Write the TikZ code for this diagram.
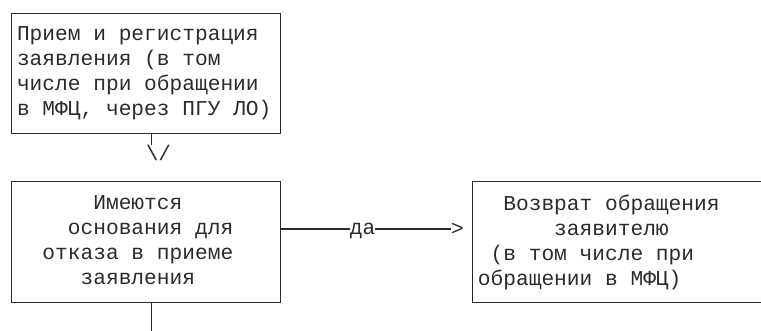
\documentclass[tikz,border=0pt]{standalone}
\usepackage{fontspec}
\newfontfamily\monofnt{Liberation Mono}
\definecolor{ink}{HTML}{2B2B2B}
\tikzset{
  boxline/.style={draw=ink, line width=1.4pt},
  frame/.style={boxline, rectangle, inner sep=0pt},
  txt/.style={font=\monofnt\fontsize{21.2}{25}\selectfont, text=ink, inner sep=0pt, align=left, anchor=north west},
  glyph/.style={font=\monofnt\fontsize{21.2}{25}\selectfont, text=ink, inner sep=0pt},
  conn/.style={boxline}
}
\begin{document}
\begin{tikzpicture}[x=1pt,y=-1pt]
\clip (0,0) rectangle (761,331);
\useasboundingbox (0,0) rectangle (761,331);
% boxes
\node[frame, anchor=north west, minimum width=269pt, minimum height=120pt] (b1) at (11,13) {};
\node[frame, anchor=north west, minimum width=269pt, minimum height=121pt] (b2) at (11,181) {};
\node[frame, anchor=north west, minimum width=340pt, minimum height=121pt] (b3) at (471.7,181) {};
% texts
\node[txt] (t1) at (16.8,20.8) {\rule{0pt}{20pt}Прием и регистрация\\заявления (в том\\числе при обращении\\в МФЦ, через ПГУ ЛО)};
\node[txt] (t2) at (16.8,189.5) {\rule{0pt}{20pt}\hspace*{3.6em}Имеются\\\hspace*{2.4em}основания для\\\hspace*{1.2em}отказа в приеме\\\hspace*{3em}заявления};
\node[txt] (t3) at (477.7,190) {\rule{0pt}{20pt}\hspace*{1.2em}Возврат обращения\\\hspace*{3.6em}заявителю\\\hspace*{0.6em}(в том числе при\\обращении в МФЦ)};
% connector box1 -> box2
\coordinate (e1) at (151.7,145);
\draw[conn] (e1 |- b1.south) -- (e1);
\node[glyph, anchor=base] (v) at (158.5,161) {\textbackslash/};
% connector box2 -> box3
\coordinate (c1) at (280,229);
\node[glyph, anchor=base] (da) at (362.5,235) {да};
\node[glyph, anchor=west] (gt) at (451,229) {>};
\draw[conn] (b2.east |- c1) -- (da.west |- c1);
\draw[conn] (da.east |- c1) -- (gt.west);
% stub below box2
\coordinate (e2) at (151.7,340);
\draw[conn] (e2 |- b2.south) -- (e2);
\end{tikzpicture}
\end{document}
